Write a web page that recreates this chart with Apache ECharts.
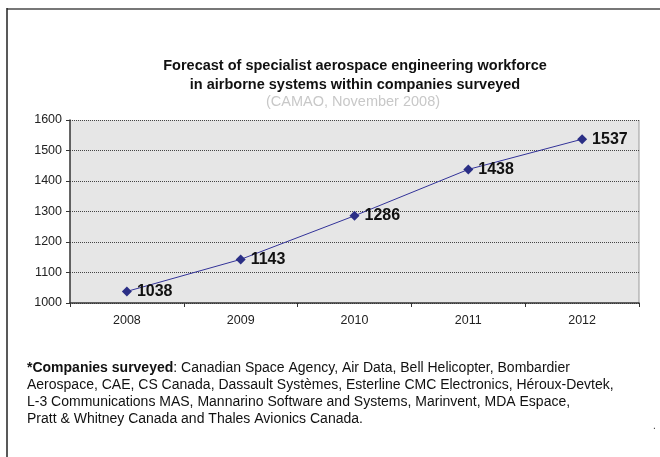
<!DOCTYPE html>
<html><head><meta charset="utf-8">
<script src="https://cdn.jsdelivr.net/npm/echarts@6/dist/echarts.min.js"></script>
<style>html,body{margin:0;padding:0;background:#fff}#c{width:660px;height:457px}</style>
</head><body><div id="c"></div>
<script>
const years = ['2008', '2009', '2010', '2011', '2012'];
const workforce = [1038, 1143, 1286, 1438, 1537];
const yTicks = { min: 1000, max: 1600, interval: 100 };
const titleLines = ['Forecast of specialist aerospace engineering workforce', 'in airborne systems within companies surveyed'];
const subtitle = '(CAMAO, November 2008)';
const noteLead = '*Companies surveyed';
const noteLines = [
  ': Canadian Space Agency, Air Data, Bell Helicopter, Bombardier',
  'Aerospace, CAE, CS Canada, Dassault Systèmes, Esterline CMC Electronics, Héroux-Devtek,',
  'L-3 Communications MAS, Mannarino Software and Systems, Marinvent, MDA Espace,',
  'Pratt & Whitney Canada and Thales Avionics Canada.'
];

const F = 'Liberation Sans, Arial, sans-serif';
const chart = echarts.init(document.getElementById('c'));
chart.setOption({
  animation: false,
  backgroundColor: '#fff',
  grid: { left: 70, right: 21, top: 120, bottom: 154, show: true, backgroundColor: '#e6e6e6', borderWidth: 0 },
  xAxis: {
    type: 'category', data: years, boundaryGap: true,
    axisLine: { lineStyle: { color: '#333', width: 1.5 } },
    axisTick: { show: true, length: 4, lineStyle: { color: '#333' } },
    axisLabel: { color: '#222', fontFamily: F, fontSize: 12.5, margin: 11 }
  },
  yAxis: {
    type: 'value', min: yTicks.min, max: yTicks.max, interval: yTicks.interval,
    axisLine: { show: true, lineStyle: { color: '#333', width: 1.5 } },
    axisTick: { show: true, length: 4, lineStyle: { color: '#333' } },
    axisLabel: { color: '#222', fontFamily: F, fontSize: 12.5, margin: 8, formatter: v => String(v) },
    splitLine: { show: true, lineStyle: { color: '#444', type: [1, 1], width: 1 } }
  },
  series: [{
    type: 'line', data: workforce,
    symbol: 'diamond', symbolSize: 10,
    lineStyle: { color: '#333399', width: 1 },
    itemStyle: { color: '#2b2f86' },
    label: { show: true, position: 'right', distance: 5, color: '#111', fontFamily: F, fontSize: 16, fontWeight: 'bold' }
  }],
  graphic: [
    { type: 'line', shape: { x1: 7, y1: 9, x2: 660, y2: 9 }, style: { stroke: '#777', lineWidth: 2 } },
    { type: 'line', shape: { x1: 7, y1: 8, x2: 7, y2: 457 }, style: { stroke: '#222', lineWidth: 1.5 } },
    { type: 'line', shape: { x1: 639, y1: 120, x2: 639, y2: 303 }, style: { stroke: '#9a9a9a', lineWidth: 1 } },
    { type: 'text', x: 355, y: 66, style: { text: titleLines[0], textAlign: 'center', textVerticalAlign: 'middle', font: 'bold 14.5px ' + F, fill: '#111' } },
    { type: 'text', x: 355, y: 85, style: { text: titleLines[1], textAlign: 'center', textVerticalAlign: 'middle', font: 'bold 14.5px ' + F, fill: '#111' } },
    { type: 'text', x: 353, y: 102, style: { text: subtitle, textAlign: 'center', textVerticalAlign: 'middle', font: '14.5px ' + F, fill: '#c8c8c8' } },
    { type: 'text', x: 27, y: 368, style: {
        text: '{b|' + noteLead + '}{n|' + noteLines[0] + '}',
        textVerticalAlign: 'middle',
        rich: { b: { font: 'bold 14px ' + F, fill: '#111' }, n: { font: '14px ' + F, fill: '#111' } } } },
    { type: 'text', x: 27, y: 385, style: { text: noteLines[1], textVerticalAlign: 'middle', font: '14px ' + F, fill: '#111' } },
    { type: 'text', x: 27, y: 402, style: { text: noteLines[2], textVerticalAlign: 'middle', font: '14px ' + F, fill: '#111' } },
    { type: 'text', x: 27, y: 419, style: { text: noteLines[3], textVerticalAlign: 'middle', font: '14px ' + F, fill: '#111' } },
    { type: 'text', x: 653, y: 426, style: { text: '.', textVerticalAlign: 'middle', font: '10px ' + F, fill: '#333' } }
  ]
});
</script></body></html>
